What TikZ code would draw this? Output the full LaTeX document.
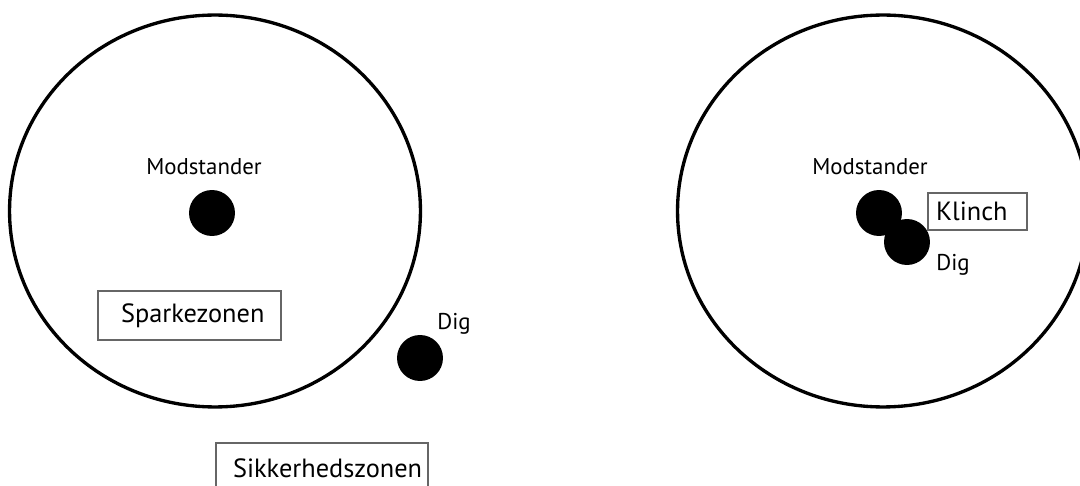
\documentclass[tikz,border=0pt]{standalone}
\usepackage{fontspec}
\setmainfont{PT Sans}
\usetikzlibrary{shapes.geometric}
\tikzset{
  ring/.style={ellipse, draw, line width=1.9pt, minimum width=8.22cm, minimum height=7.84cm, inner sep=0pt},
  dot/.style={circle, fill=black, minimum size=0.92cm, inner sep=0pt},
  zonebox/.style={draw=black!60, line width=0.8pt, align=left, inner ysep=0pt, font=\fontsize{15}{17}\selectfont},
  tag/.style={font=\fontsize{13}{15}\selectfont, inner sep=0pt}
}
\begin{document}
\begin{tikzpicture}[x=0.02cm, y=-0.02cm]
                    \useasboundingbox (0,0) rectangle (1080,486);
                    % Nodes
                    \node[ring] (ringA) at (215,211) {};
                    \node[ring] (ringB) at (883,211) {};
                    \node[dot] (opA) at (212,213) {};
                    \node[tag] (opAlabel) at (204,167) {Modstander};
                    \node[dot] (meA) at (420,358) {};
                    \node[tag, anchor=west] (meAlabel) at (437,324) {Dig};
                    \node[zonebox, inner xsep=0.46cm, text width=2.74cm, minimum height=0.98cm] (kick) at (189.5,315.5) {Sparkezonen};
                    \node[zonebox, inner xsep=0.34cm, text width=3.56cm, minimum height=1.0cm] (safe) at (322,468) {Sikkerhedszonen};
                    \node[dot] (opB) at (879,213) {};
                    \node[dot] (meB) at (907,242) {};
                    \node[tag] (opBlabel) at (870,167) {Modstander};
                    \node[tag, anchor=west] (meBlabel) at (936,265) {Dig};
                    \node[zonebox, inner xsep=0.16cm, text width=1.66cm, minimum height=0.74cm] (clinch) at (977.5,211.5) {Klinch};
                \end{tikzpicture}
\end{document}
